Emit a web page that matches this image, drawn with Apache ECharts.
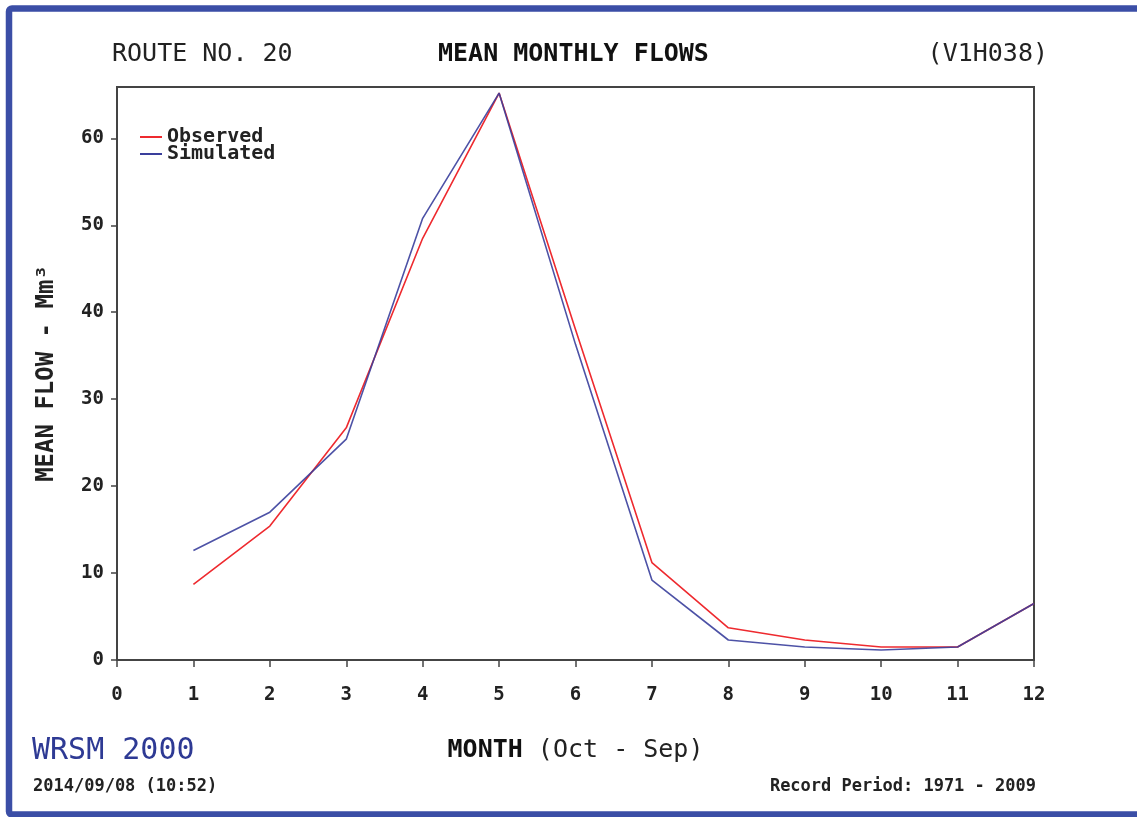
<!DOCTYPE html>
<html>
<head>
<meta charset="utf-8">
<script src="https://cdn.jsdelivr.net/npm/echarts@6/dist/echarts.min.js"></script>
<style>
html,body{margin:0;padding:0;background:#fff;}
#chart{width:1137px;height:817px;}
</style>
</head>
<body>
<div id="chart"></div>
<script>
// ---- data ----
const months = [1, 2, 3, 4, 5, 6, 7, 8, 9, 10, 11, 12];
const observed  = [8.7, 15.4, 26.7, 48.5, 65.2, 38.0, 11.2, 3.7, 2.3, 1.5, 1.5, 6.5];
const simulated = [12.6, 17.0, 25.4, 50.8, 65.2, 36.3, 9.2, 2.3, 1.5, 1.15, 1.5, 6.5];
const xTicks = [0, 1, 2, 3, 4, 5, 6, 7, 8, 9, 10, 11, 12];
const yTicks = [0, 10, 20, 30, 40, 50, 60];
const seriesNames = ['Observed', 'Simulated'];

const MONO = '"DejaVu Sans Mono", "Liberation Mono", monospace';
const chart = echarts.init(document.getElementById('chart'), null, {renderer: 'canvas'});

const pairs = (vals) => months.map((m, i) => [m, vals[i]]);

const option = {
  backgroundColor: '#ffffff',
  animation: false,
  title: [
    {text: 'ROUTE NO. 20', left: 112, top: 42, padding: 0,
     textStyle: {fontFamily: MONO, fontSize: 25, fontWeight: 'normal', color: '#222'}},
    {text: 'MEAN MONTHLY FLOWS', left: 438, top: 42, padding: 0,
     textStyle: {fontFamily: MONO, fontSize: 25, fontWeight: 'bold', color: '#111'}},
    {text: '(V1H038)', right: 89, top: 42, padding: 0,
     textStyle: {fontFamily: MONO, fontSize: 25, fontWeight: 'normal', color: '#222'}},
    {text: 'WRSM 2000', left: 32, top: 736, padding: 0,
     textStyle: {fontFamily: MONO, fontSize: 30, fontWeight: 'normal', color: '#2e3a94'}},
    {text: '2014/09/08 (10:52)', left: 33, top: 778, padding: 0,
     textStyle: {fontFamily: MONO, fontSize: 17, fontWeight: 'bold', color: '#222'}},
    {text: 'Record Period: 1971 - 2009', right: 101, top: 778, padding: 0,
     textStyle: {fontFamily: MONO, fontSize: 17, fontWeight: 'bold', color: '#222'}}
  ],
  legend: {
    orient: 'vertical',
    left: 140, top: 127,
    padding: 0,
    itemGap: -3,
    itemWidth: 22, itemHeight: 2,
    itemTextGap: 6,
    icon: 'rect',
    data: seriesNames,
    textStyle: {fontFamily: MONO, fontSize: 20, fontWeight: 'bold', color: '#222', lineHeight: 17, padding: [3, 0, 0, 0]}
  },
  grid: {
    left: 117, right: 103, top: 87, bottom: 157,
    show: true, borderColor: '#444', borderWidth: 2, backgroundColor: 'transparent'
  },
  xAxis: {
    type: 'value', min: 0, max: 12, interval: 1,
    name: '{b|MONTH} {n|(Oct - Sep)}',
    nameLocation: 'middle', nameGap: 78,
    nameTextStyle: {
      fontFamily: MONO, fontSize: 25,
      rich: {
        b: {fontFamily: MONO, fontSize: 25, fontWeight: 'bold', color: '#111'},
        n: {fontFamily: MONO, fontSize: 25, fontWeight: 'normal', color: '#222'}
      }
    },
    splitLine: {show: false},
    axisLine: {show: true, onZero: false, lineStyle: {color: '#444', width: 2}},
    axisTick: {show: true, length: 7, customValues: xTicks, lineStyle: {color: '#444', width: 1.5}},
    axisLabel: {show: true, margin: 26, customValues: xTicks,
      fontFamily: MONO, fontSize: 19, fontWeight: 'bold', color: '#222'}
  },
  yAxis: {
    type: 'value', min: 0, max: 65.9, interval: 10,
    name: 'MEAN FLOW - Mm³',
    nameLocation: 'middle', nameGap: 58, nameRotate: 90,
    nameTextStyle: {fontFamily: MONO, fontSize: 24, fontWeight: 'bold', color: '#222'},
    splitLine: {show: false},
    axisLine: {show: true, lineStyle: {color: '#444', width: 2}},
    axisTick: {show: true, length: 6, customValues: yTicks, lineStyle: {color: '#444', width: 1.5}},
    axisLabel: {show: true, margin: 13, customValues: yTicks,
      fontFamily: MONO, fontSize: 19, fontWeight: 'bold', color: '#222'}
  },
  series: [
    {name: seriesNames[0], type: 'line', data: pairs(observed), showSymbol: false,
     color: '#ee2a2f', lineStyle: {color: '#ee2a2f', width: 1.6}, z: 2},
    {name: seriesNames[1], type: 'line', data: pairs(simulated), showSymbol: false,
     color: '#3a3f9c', lineStyle: {color: '#3a3f9c', width: 1.6, opacity: 0.9}, z: 3}
  ],
  graphic: [
    {type: 'rect', z: 100, silent: true,
     shape: {x: 9, y: 8.5, width: 1150, height: 806, r: 3},
     style: {fill: 'none', stroke: '#3b4ea6', lineWidth: 6.5}}
  ]
};
chart.setOption(option);
</script>
</body>
</html>
